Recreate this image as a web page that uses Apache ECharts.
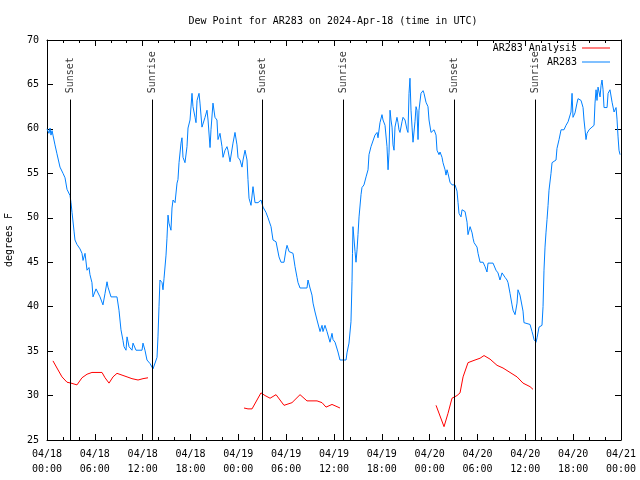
<!DOCTYPE html>
<html><head><meta charset="utf-8">
<script src="https://cdn.jsdelivr.net/npm/echarts@6/dist/echarts.min.js"></script>
<style>html,body{margin:0;padding:0;background:#fff}#c{width:640px;height:480px}</style>
</head><body><div id="c"></div>
<script>
// hours since 2024-04-18 00:00 UTC
var blueHours = [0,0.25,0.38,0.50,0.63,0.75,1.00,1.25,1.63,2.01,2.26,2.51,2.76,2.89,3.01,3.14,3.39,3.51,3.76,3.89,4.14,4.39,4.52,4.77,5.02,5.27,5.39,5.64,5.77,6.15,6.40,6.65,7.02,7.28,7.53,7.65,8.03,8.78,9.03,9.28,9.53,9.66,9.91,10.04,10.29,10.66,10.79,11.16,11.92,12.04,12.29,12.54,12.92,13.30,13.55,13.80,13.92,14.05,14.17,14.43,14.55,14.68,14.93,15.05,15.18,15.30,15.55,15.68,15.81,16.06,16.31,16.43,16.56,16.81,16.93,17.06,17.31,17.56,17.69,17.94,18.19,18.31,18.57,18.69,18.82,19.07,19.19,19.44,19.57,19.82,20.07,20.20,20.45,20.57,20.82,20.95,21.07,21.32,21.45,21.70,21.95,22.08,22.33,22.58,22.70,22.96,23.21,23.33,23.58,23.83,23.96,24.21,24.46,24.59,24.84,25.09,25.21,25.34,25.59,25.72,25.84,26.09,26.47,26.84,27.10,27.47,27.72,28.10,28.35,28.73,28.98,29.10,29.35,29.73,29.98,30.11,30.36,30.86,31.11,31.36,31.49,31.74,32.61,32.74,32.99,33.24,33.37,33.62,33.87,34.25,34.50,34.62,34.87,35.12,35.25,35.50,35.75,35.88,36.13,36.38,36.50,36.75,37.51,37.63,37.88,38.13,38.26,38.32,38.38,38.64,38.76,38.89,39.01,39.14,39.39,39.51,39.76,40.02,40.27,40.39,40.64,40.89,41.14,41.40,41.52,41.77,42.02,42.15,42.40,42.65,42.78,42.90,43.03,43.15,43.28,43.40,43.53,43.65,43.90,44.03,44.15,44.28,44.53,44.66,44.91,45.16,45.28,45.41,45.53,45.66,45.79,45.91,46.16,46.29,46.41,46.54,46.66,46.91,47.17,47.29,47.54,47.79,47.92,48.17,48.29,48.55,48.80,48.92,49.17,49.30,49.55,49.67,49.93,50.05,50.18,50.30,50.55,50.80,50.93,51.18,51.43,51.56,51.68,51.93,52.06,52.19,52.44,52.69,52.81,53.07,53.32,53.44,53.57,53.94,54.07,54.32,54.70,54.95,55.19,55.32,55.95,56.32,56.57,56.82,57.08,57.20,57.45,57.70,57.83,58.08,58.33,58.46,58.71,58.96,59.08,59.33,59.58,59.71,59.83,60.59,60.84,60.96,61.09,61.34,61.47,61.72,62.09,62.22,62.34,62.47,62.59,62.72,62.85,62.97,63.22,63.35,63.47,63.85,63.97,64.23,64.48,64.85,65.10,65.36,65.61,65.73,65.86,65.98,66.23,66.48,66.61,66.99,67.24,67.36,67.49,67.61,67.74,67.99,68.36,68.62,68.74,68.87,68.99,69.12,69.37,69.50,69.62,69.75,69.87,70.25,70.38,70.62,70.88,71.13,71.38,71.50,71.63,71.75,71.88];
var blueValues = [60.0,59.5,60.1,59.3,59.8,59.3,58.2,57.2,55.7,55.0,54.5,53.2,53.0,52.5,51.7,50.6,48.5,47.5,47.0,46.9,46.5,46.0,45.2,46.0,44.1,44.4,43.6,42.7,41.1,42.0,41.9,41.1,40.2,41.5,42.8,42.2,41.1,41.1,39.6,37.4,36.2,35.5,35.1,36.6,35.5,35.1,35.9,35.1,35.1,35.9,35.1,34.0,33.6,33.0,33.2,34.3,36.6,40.0,43.0,42.7,41.9,43.2,45.8,47.7,50.3,49.4,48.6,51.1,52.0,51.7,53.9,54.3,56.2,58.4,59.0,56.8,56.2,58.0,60.1,61.0,64.0,62.5,61.3,60.7,63.2,64.0,62.9,60.2,60.2,61.3,62.1,61.0,57.9,59.9,62.9,62.9,61.3,61.0,58.8,59.5,58.0,56.8,57.6,58.0,57.6,56.3,56.5,58.4,59.6,58.2,56.8,56.5,55.7,56.5,57.6,56.5,54.3,52.2,51.4,51.6,53.5,51.7,51.7,52.0,51.2,50.6,50.0,49.0,47.5,47.3,47.2,45.6,45.0,45.0,46.4,46.9,46.2,46.0,44.5,43.3,42.7,42.1,42.1,43.0,42.1,41.3,40.4,39.4,38.5,37.2,37.9,37.2,37.9,37.2,37.0,36.0,37.0,36.3,36.0,35.9,34.9,34.0,34.0,34.8,35.9,38.3,42.8,46.0,49.0,46.2,45.0,46.4,48.1,50.1,52.6,53.4,53.7,54.6,55.4,57.1,58.0,58.0,59.3,59.6,59.0,60.7,61.6,61.0,60.4,58.0,55.4,57.3,62.1,61.0,60.2,58.2,57.6,60.2,61.3,60.7,59.9,59.6,60.8,61.3,61.0,59.9,59.6,64.0,65.7,62.1,60.2,58.5,60.8,62.5,62.1,58.8,62.1,64.0,64.3,64.0,63.0,62.5,61.0,59.6,59.5,59.9,59.3,57.6,57.1,57.4,56.8,56.2,55.4,54.8,55.4,55.0,54.0,53.7,53.9,53.7,53.0,51.7,50.5,50.1,50.9,51.1,50.7,49.5,48.1,49.0,48.3,47.7,47.2,46.7,46.0,45.0,45.0,44.5,43.9,44.9,44.9,44.1,43.8,43.0,43.8,43.9,43.3,43.0,42.7,41.5,40.2,39.6,39.1,40.4,41.9,41.3,41.1,39.5,38.2,38.0,37.2,36.8,36.3,36.0,36.5,37.7,37.9,40.0,44.1,46.7,48.3,49.8,51.4,53.1,55.0,56.2,56.3,56.5,57.8,58.8,59.9,59.9,60.4,60.8,61.0,61.9,64.0,61.3,61.8,62.9,63.4,63.2,62.4,61.0,59.9,58.8,59.5,59.9,60.2,60.4,62.9,64.4,63.2,64.7,63.6,64.9,65.5,64.4,62.4,62.4,64.0,64.4,63.0,61.9,62.4,61.1,59.1,57.6,57.1];
var redHours = [0.75,1.25,1.88,2.51,3.01,3.76,4.39,5.02,5.64,6.90,7.28,7.78,8.28,8.78,9.41,10.04,10.66,11.42,12.04,12.67,18,24.71,25.21,25.72,26.34,26.84,27.35,27.98,28.73,29.23,29.73,30.73,31.74,32.61,33.87,34.50,35.00,35.75,36.38,36.75,42,48.80,49.80,50.30,50.80,51.43,51.81,52.19,52.81,53.69,54.32,54.82,55.57,56.45,57.20,58.08,58.96,59.71,60.59,60.96];
var redValues = [33.9,33.1,32.1,31.5,31.4,31.2,32.0,32.4,32.6,32.6,32.0,31.4,32.1,32.5,32.3,32.1,31.9,31.75,31.9,32.0,'-',28.6,28.5,28.5,29.5,30.3,30.0,29.7,30.1,29.5,28.9,29.2,30.1,29.4,29.4,29.2,28.7,29.0,28.75,28.6,'-',28.9,26.5,28.0,29.7,30.0,30.3,32.1,33.7,34.0,34.2,34.5,34.1,33.4,33.1,32.6,32.1,31.4,31.0,30.7];
var eventHours = [2.92,13.21,27.01,37.17,51.09,61.25];
var eventNames = ['Sunset','Sunrise','Sunset','Sunrise','Sunset','Sunrise'];
var xTickLabels = ['04/18\n00:00','04/18\n06:00','04/18\n12:00','04/18\n18:00','04/19\n00:00','04/19\n06:00','04/19\n12:00','04/19\n18:00','04/20\n00:00','04/20\n06:00','04/20\n12:00','04/20\n18:00','04/21\n00:00'];
var yMin = 25, yMax = 70, yStep = 5, xMin = 0, xMax = 72, xStep = 6;
var lineBottom = 25, lineTop = 63.3, labelAt = 64.0;

var FONT = 'DejaVu Sans Mono';
var blueData = blueHours.map(function(h,i){return [h, blueValues[i]];});
var redData = redHours.map(function(h,i){return [h, redValues[i]];});
var markData = eventHours.map(function(h){return [{coord:[h,lineBottom]},{coord:[h,lineTop]}];});
var labelData = eventHours.map(function(h,i){return [h, labelAt, eventNames[i]];});

var tickStyle = {show:true, inside:true, length:6, lineStyle:{color:'#000', width:1}};
var minorStyle = {show:true, splitNumber:3, length:3, lineStyle:{color:'#000', width:1}};
var lineStyleAx = {show:true, onZero:false, lineStyle:{color:'#000', width:1}};

var chart = echarts.init(document.getElementById('c'), null, {renderer:'canvas'});
chart.setOption({
  animation:false,
  backgroundColor:'#fff',
  title:{text:'Dew Point for AR283 on 2024-Apr-18 (time in UTC)', left:328, top:11, textAlign:'center',
    textStyle:{fontFamily:FONT, fontSize:10, fontWeight:'normal', color:'#000'}},
  legend:[
    {data:['AR283 Analysis'], right:30, top:43, align:'right', itemWidth:28, itemHeight:1, icon:'rect',
      textStyle:{fontFamily:FONT, fontSize:10, color:'#000'}, selectedMode:false, padding:0},
    {data:['AR283'], right:30, top:57, align:'right', itemWidth:28, itemHeight:1, icon:'rect',
      textStyle:{fontFamily:FONT, fontSize:10, color:'#000'}, selectedMode:false, padding:0}
  ],
  grid:{left:47, right:19, top:40, bottom:40, containLabel:false, outerBoundsMode:'none'},
  xAxis:[
    {type:'value', min:xMin, max:xMax, interval:xStep, position:'bottom',
      axisLine:lineStyleAx, axisTick:tickStyle, minorTick:minorStyle, splitLine:{show:false},
      axisLabel:{formatter:function(v){return xTickLabels[Math.round((v-xMin)/xStep)];}, fontFamily:FONT, fontSize:10, color:'#000', margin:7, lineHeight:15}},
    {type:'value', min:xMin, max:xMax, interval:xStep, position:'top',
      axisLine:lineStyleAx, axisTick:tickStyle, minorTick:minorStyle, splitLine:{show:false}, axisLabel:{show:false}}
  ],
  yAxis:[
    {type:'value', min:yMin, max:yMax, interval:yStep, position:'left',
      name:'degrees F', nameLocation:'middle', nameGap:33, nameRotate:90,
      nameTextStyle:{fontFamily:FONT, fontSize:10, color:'#000'},
      axisLine:lineStyleAx, axisTick:tickStyle, splitLine:{show:false},
      axisLabel:{fontFamily:FONT, fontSize:10, color:'#000', margin:8}},
    {type:'value', min:yMin, max:yMax, interval:yStep, position:'right',
      axisLine:lineStyleAx, axisTick:tickStyle, splitLine:{show:false}, axisLabel:{show:false}}
  ],
  series:[
    {name:'AR283 Analysis', type:'line', data:redData, symbol:'none', connectNulls:false,
      lineStyle:{color:'#ff0000', width:1}, itemStyle:{color:'#ff0000'}, z:3},
    {name:'AR283', type:'line', data:blueData, symbol:'none',
      lineStyle:{color:'#0080ff', width:1}, itemStyle:{color:'#0080ff'}, z:4,
      markLine:{silent:true, symbol:'none', animation:false, label:{show:false},
        lineStyle:{color:'#000', width:1, type:'solid'}, data:markData}},
    {name:'events', type:'scatter', data:labelData, symbolSize:0, silent:true, z:5,
      label:{show:true, position:'inside', rotate:90, align:'left', verticalAlign:'middle',
        formatter:function(p){return p.data[2];}, fontFamily:FONT, fontSize:10, color:'#000'}}
  ]
});
</script></body></html>
